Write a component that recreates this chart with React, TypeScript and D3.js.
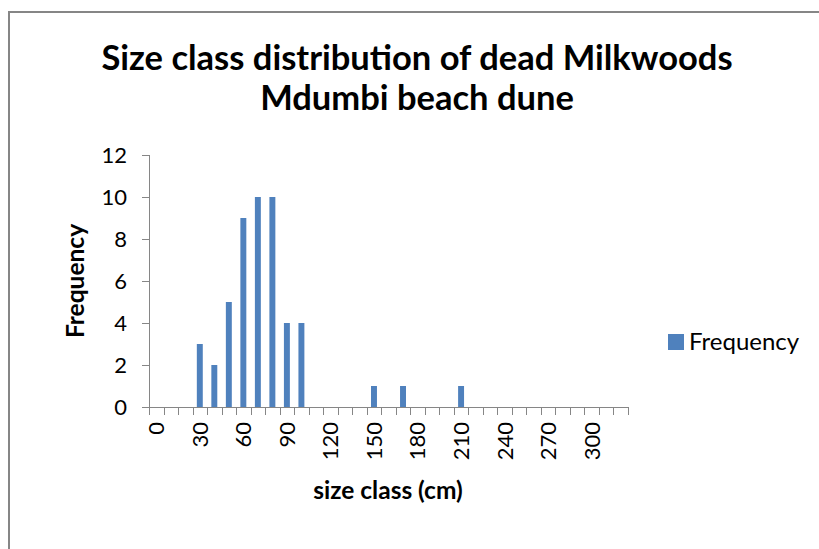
import * as d3 from 'd3';
import { useEffect, useRef } from 'react';

// size classes (cm), one bar slot per 10 cm
const sizeClasses = d3.range(0, 330, 10).map(String);
const frequency: Record<string, number> = {
  '30': 3, '40': 2, '50': 5, '60': 9, '70': 10, '80': 10,
  '90': 4, '100': 4, '150': 1, '170': 1, '210': 1
};
const yTicks = [0, 2, 4, 6, 8, 10, 12];
const titleLines = ['Size class distribution of dead Milkwoods', 'Mdumbi beach dune'];

const FONT = 'Lato, "Liberation Sans", sans-serif';
const BLUE = '#4F81BD';
const AXIS = '#868686';

const App = () => {
  const ref = useRef<SVGSVGElement | null>(null);

  useEffect(() => {
    if (!ref.current) return;
    const svg = d3.select(ref.current);
    svg.selectAll('*').remove();

    const width = 819;
    const height = 549;
    svg.attr('width', width).attr('height', height);

    svg.append('rect').attr('width', width).attr('height', height).attr('fill', '#fff');
    // chart frame: only top and left edges are inside the picture
    svg.append('path')
      .attr('d', `M9,${height} V12 H${width}`)
      .attr('fill', 'none').attr('stroke', AXIS).attr('stroke-width', 2);

    const x = d3.scaleBand().domain(sizeClasses).range([149, 628]).padding(0);
    const y = d3.scaleLinear().domain([0, 12]).range([407, 155]);

    // title
    svg.append('text')
      .attr('text-anchor', 'middle')
      .attr('font-family', FONT).attr('font-weight', 'bold').attr('font-size', 34.5)
      .selectAll('tspan').data(titleLines).enter().append('tspan')
      .attr('x', 417).attr('y', (_, i) => 70 + i * 40)
      .text(d => d);

    // bars
    const bw = x.bandwidth() * 0.41;
    svg.selectAll('.bar')
      .data(sizeClasses.filter(c => frequency[c]))
      .enter().append('rect')
      .attr('x', d => (x(d) || 0) + (x.bandwidth() - bw) / 2)
      .attr('y', d => y(frequency[d]))
      .attr('width', bw)
      .attr('height', d => y(0) - y(frequency[d]))
      .attr('fill', BLUE);

    // y axis
    const yAxis = svg.append('g');
    yAxis.append('line')
      .attr('x1', 149.5).attr('x2', 149.5).attr('y1', y(12)).attr('y2', y(0))
      .attr('stroke', AXIS);
    yTicks.forEach(t => {
      yAxis.append('line')
        .attr('x1', 142).attr('x2', 149).attr('y1', Math.round(y(t)) + 0.5).attr('y2', Math.round(y(t)) + 0.5)
        .attr('stroke', AXIS);
      yAxis.append('text')
        .attr('x', 127).attr('y', y(t)).attr('dy', '0.36em')
        .attr('text-anchor', 'end')
        .attr('font-family', FONT).attr('font-size', 22).attr('fill', '#000')
        .text(t);
    });

    // x axis
    const xAxis = svg.append('g');
    xAxis.append('line')
      .attr('x1', 149).attr('x2', 628).attr('y1', Math.round(y(0)) + 0.5).attr('y2', Math.round(y(0)) + 0.5)
      .attr('stroke', AXIS);
    sizeClasses.concat(['end']).forEach((c, i) => {
      const px = Math.round(149 + i * x.bandwidth()) + 0.5;
      xAxis.append('line')
        .attr('x1', px).attr('x2', px).attr('y1', y(0)).attr('y2', y(0) + 8)
        .attr('stroke', AXIS);
    });
    sizeClasses.filter((_, i) => i % 3 === 0).forEach(c => {
      const cx = (x(c) || 0) + x.bandwidth() / 2;
      xAxis.append('text')
        .attr('transform', `translate(${cx},422) rotate(-90)`)
        .attr('dy', '0.36em')
        .attr('text-anchor', 'end')
        .attr('font-family', FONT).attr('font-size', 22).attr('fill', '#000')
        .text(c);
    });

    // axis titles
    svg.append('text')
      .attr('x', 388).attr('y', 499).attr('text-anchor', 'middle')
      .attr('font-family', FONT).attr('font-weight', 'bold').attr('font-size', 24.5)
      .text('size class (cm)');
    svg.append('text')
      .attr('transform', 'translate(84,281) rotate(-90)')
      .attr('text-anchor', 'middle')
      .attr('font-family', FONT).attr('font-weight', 'bold').attr('font-size', 24.5)
      .text('Frequency');

    // legend
    svg.append('rect').attr('x', 668).attr('y', 334).attr('width', 16).attr('height', 16).attr('fill', BLUE);
    svg.append('text')
      .attr('x', 689).attr('y', 350)
      .attr('font-family', FONT).attr('font-size', 24)
      .text('Frequency');
  }, []);

  return <svg ref={ref} style={{ position: 'absolute', left: 0, top: 0, display: 'block' }} />;
};

export default App;
